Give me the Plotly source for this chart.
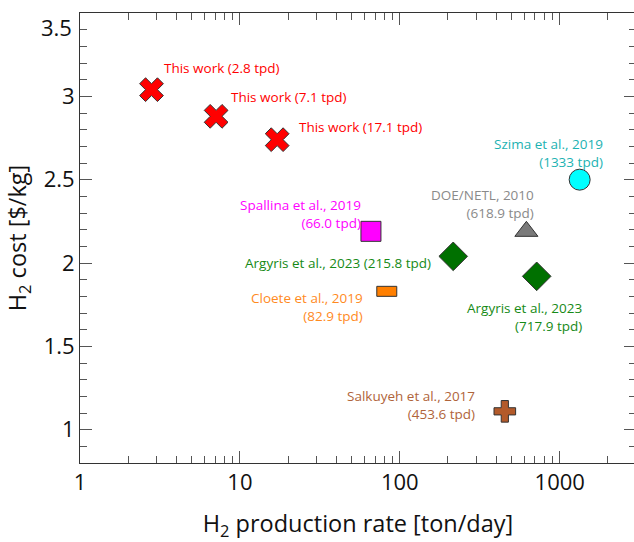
import numpy as np
import plotly.graph_objects as go

# ---- data ----
labels = [
    "This work (2.8 tpd)", "This work (7.1 tpd)", "This work (17.1 tpd)",
    "Szima et al., 2019<br>(1333 tpd)", "DOE/NETL, 2010<br>(618.9 tpd)",
    "Spallina et al., 2019<br>(66.0 tpd)", "Argyris et al., 2023 (215.8 tpd)",
    "Cloete et al., 2019<br>(82.9 tpd)", "Argyris et al., 2023<br>(717.9 tpd)",
    "Salkuyeh et al., 2017<br>(453.6 tpd)",
]
rate = [2.8, 7.1, 17.1, 1333, 618.9, 66.0, 215.8, 82.9, 717.9, 453.6]
cost = [3.04, 2.88, 2.74, 2.50, 2.19, 2.19, 2.04, 1.83, 1.92, 1.11]
x_tickvals = [1, 10, 100, 1000]
x_ticktext = ["1", "10", "100", "1000"]
y_tickvals = [1, 1.5, 2, 2.5, 3, 3.5]
y_ticktext = ["1", "1.5", "2", "2.5", "3", "3.5"]
x_max = 3000

# ---- styles (per point) ----
symbols = ["x", "x", "x", "circle", "triangle-up", "square", "diamond", None, "diamond", "cross"]
sizes = [21, 21, 21, 21, 20, 20, 22, None, 22, 18]
fills = ["#ff0000", "#ff0000", "#ff0000", "#00ffff", "#7a7a7a", "#ff00ff",
         "#007000", "#ff7f00", "#007000", "#b35a2a"]
text_colors = ["#ff0000", "#ff0000", "#ff0000", "#1cb2b2", "#8a8a8a", "#ff00ff",
               "#168a16", "#ff8a1e", "#168a16", "#b0643a"]
text_anchor = ["left", "left", "left", "right", "right", "right", "right", "right", "right", "right"]
text_shift = [(10, 22), (13, 19), (20, 13), (25, 27), (10, 27), (-8, 17),
              (-20, -7), (-22, -16), (47, -41), (-28, 6)]

FONT = "Open Sans"
fig = go.Figure()

for i in range(len(rate)):
    if symbols[i] is None:
        continue
    fig.add_trace(go.Scatter(
        x=[rate[i]], y=[cost[i]], mode="markers",
        marker=dict(symbol=symbols[i], size=sizes[i], color=fills[i],
                    line=dict(color="#333333", width=1)),
        showlegend=False, hoverinfo="skip"))

# Cloete rectangle marker (20 px wide, 10 px tall, centred on the data point)
ci = 7
half_w = 10 ** (10 / 160)  # 10 px in log space (160 px per decade)
fig.add_shape(type="rect", xref="x", yref="y", ysizemode="pixel",
              x0=rate[ci] / half_w, x1=rate[ci] * half_w,
              yanchor=cost[ci], y0=-5, y1=5,
              fillcolor=fills[ci], line=dict(color="#333333", width=1))

for i in range(len(rate)):
    fig.add_annotation(
        x=np.log10(rate[i]), y=cost[i], xref="x", yref="y", text=labels[i],
        showarrow=False, xanchor=text_anchor[i], yanchor="middle",
        align=text_anchor[i], xshift=text_shift[i][0], yshift=text_shift[i][1],
        font=dict(family=FONT, size=13.5, color=text_colors[i]))

axis_common = dict(showline=True, linecolor="#333333", linewidth=1, mirror="ticks",
                   ticks="inside", tickcolor="#555555", ticklen=12, tickwidth=1,
                   showgrid=False, zeroline=False, automargin=False,
                   tickfont=dict(family=FONT, size=22, color="#111111"))

fig.update_xaxes(type="log", range=[0, np.log10(x_max)], tickvals=x_tickvals, ticktext=x_ticktext,
                 minor=dict(ticks="inside", ticklen=7, tickcolor="#555555", dtick="D1"),
                 title=dict(text="H<sub>2</sub> production rate [ton/day]",
                            font=dict(family=FONT, size=23.5, color="#111111"), standoff=20),
                 **axis_common)
# top label "3.5" is drawn slightly inside (as in the reference), so leave its tick text blank
fig.update_yaxes(range=[0.8, 3.5], tickvals=y_tickvals, ticktext=y_ticktext[:-1] + [""],
                 minor=dict(ticks="inside", ticklen=7, tickcolor="#555555", dtick=0.1),
                 title=dict(text="H<sub>2</sub> cost [$/kg]",
                            font=dict(family=FONT, size=23.5, color="#111111"), standoff=10),
                 **axis_common)
fig.add_annotation(x=0, xref="paper", y=y_tickvals[-1], yref="y", text=y_ticktext[-1],
                   showarrow=False, xanchor="right", yanchor="middle", xshift=-6, yshift=-14,
                   font=dict(family=FONT, size=22, color="#111111"))

fig.update_layout(width=636, height=542, margin=dict(l=80, r=0, t=13, b=79),
                  plot_bgcolor="white", paper_bgcolor="white",
                  font=dict(family=FONT))

fig.write_html("out.html", config={"displayModeBar": False},
               post_script="document.body.style.margin='0px';document.body.style.overflow='hidden';")
